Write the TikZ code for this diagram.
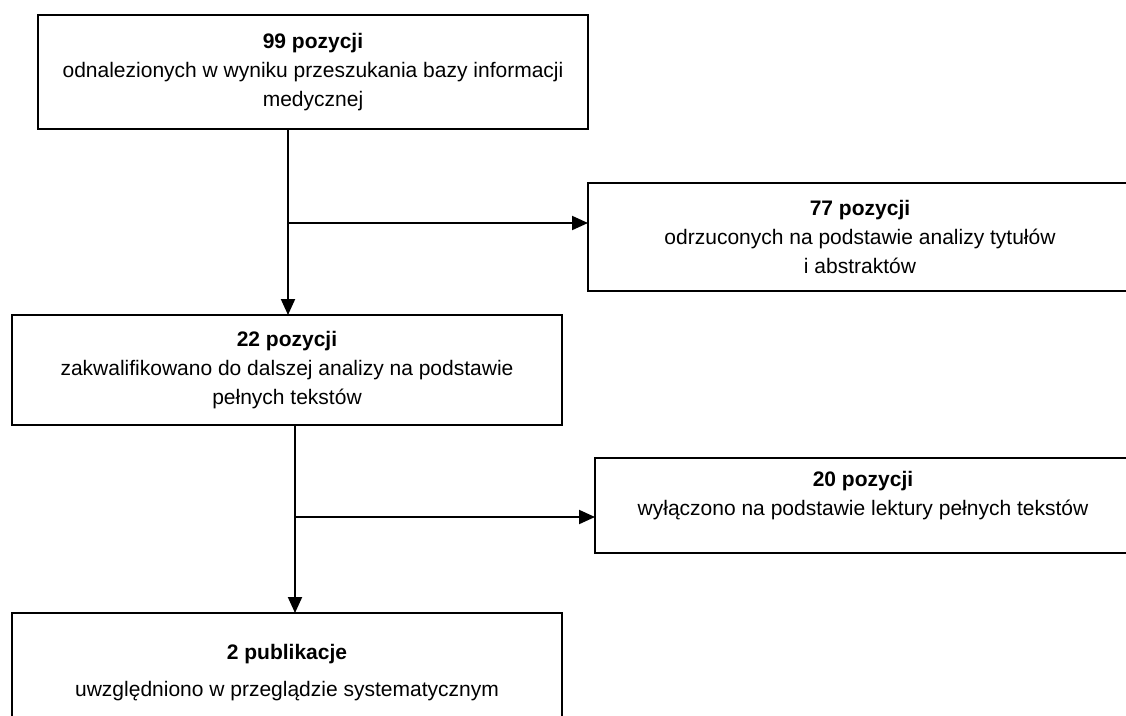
\documentclass[tikz,border=0pt]{standalone}
\usepackage{fontspec}
\setmainfont{Liberation Sans}
\usetikzlibrary{arrows.meta, positioning}

\begin{document}
\begin{tikzpicture}[x=1pt,y=-1pt,>={Triangle[length=16pt,width=14pt]},
      every node/.style={font=\fontsize{21}{29}\selectfont},
      box/.style={draw,line width=2pt,align=center,inner sep=0pt,outer sep=0pt},
      flow/.style={line width=2pt,->}]
  \useasboundingbox (0,0) rectangle (1126,715);
  \clip (0,0) rectangle (1126,715);
  \node[box,minimum width=550pt,minimum height=114pt] (found) at (313,72)
    {\textbf{99 pozycji}\\ odnalezionych w wyniku przeszukania bazy informacji\\ medycznej};
  \node[box,minimum width=544pt,minimum height=108pt] (rejected) at (860,237)
    {\textbf{77 pozycji}\\ odrzuconych na podstawie analizy tytułów\\ i abstraktów};
  \node[box,minimum width=550pt,minimum height=110pt] (qualified) at (287,370)
    {\textbf{22 pozycji}\\ zakwalifikowano do dalszej analizy na podstawie\\ pełnych tekstów};
  \node[box,minimum width=536pt,minimum height=95pt] (excluded) at (863,505)
    {\textbf{20 pozycji}\\ wyłączono na podstawie lektury pełnych tekstów\\[-14pt] \strut};
  \node[box,minimum width=550pt,minimum height=120pt] (included) at (287,673)
    {\textbf{2 publikacje}\\[8pt] uwzględniono w przeglądzie systematycznym};
  \coordinate (split_1) at (288,223);
  \coordinate (split_2) at (295,517);
  \draw[flow] (split_1 |- found.south) -- (split_1 |- qualified.north);
  \draw[flow] (split_1) -- (split_1 -| rejected.west);
  \draw[flow] (split_2 |- qualified.south) -- (split_2 |- included.north);
  \draw[flow] (split_2) -- (split_2 -| excluded.west);
\end{tikzpicture}
\end{document}
